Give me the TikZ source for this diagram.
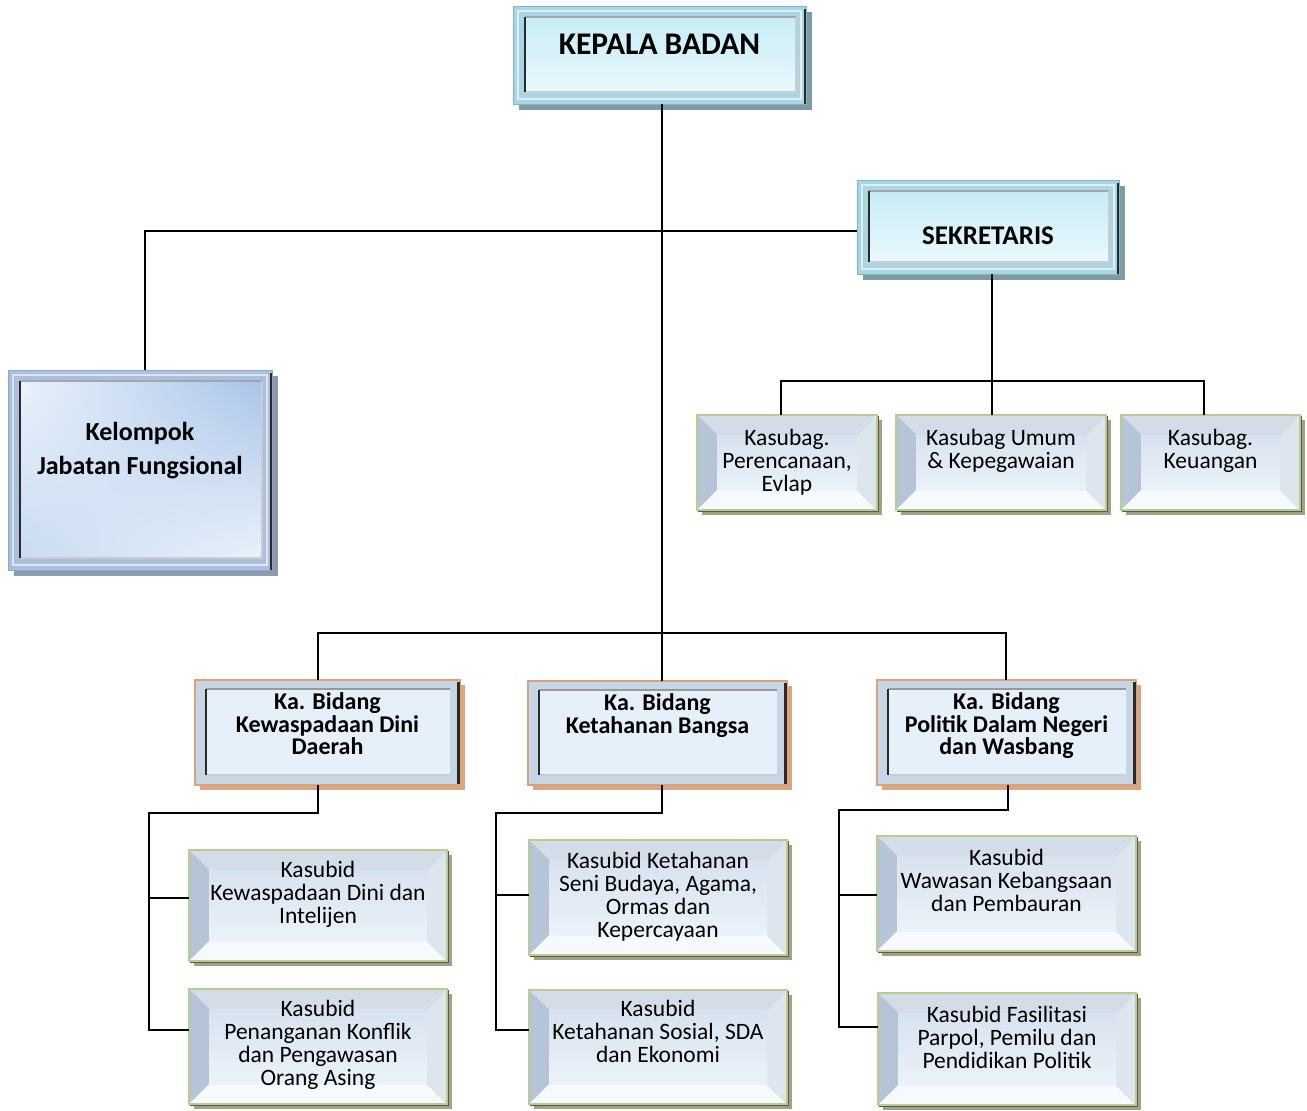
\documentclass[tikz,border=0pt]{standalone}
\usepackage{fontspec}
\setmainfont{Carlito}
\usetikzlibrary{shadings}
\definecolor{frA}{HTML}{A9D6E2}
\definecolor{frAe}{HTML}{7FB7C6}
\definecolor{shA}{HTML}{7E9AA3}
\definecolor{inAt}{HTML}{C6ECF6}
\definecolor{inAb}{HTML}{EAF9FD}
\definecolor{frB}{HTML}{A9BFDD}
\definecolor{frBe}{HTML}{8EA8CB}
\definecolor{shB}{HTML}{8A9BB0}
\definecolor{inBd}{HTML}{A9C4E8}
\definecolor{inBl}{HTML}{EAF2FC}
\definecolor{inBm}{HTML}{C9DBF1}
\definecolor{frC}{HTML}{C7D6E5}
\definecolor{frCe}{HTML}{D9A27A}
\definecolor{shC}{HTML}{D8A67F}
\definecolor{inC}{HTML}{E6F0FB}
\definecolor{edgec}{HTML}{2A2A2A}
\definecolor{grn}{HTML}{B9CD90}
\definecolor{shD}{HTML}{A0A283}
\definecolor{fT}{HTML}{D3DCE7}
\definecolor{fL}{HTML}{B6C4D7}
\definecolor{fR}{HTML}{DDE5EF}
\definecolor{fB}{HTML}{F7FAFD}
\definecolor{cT}{HTML}{D8E3F0}
\definecolor{cB}{HTML}{EBF2F9}
\newcommand\fK{\fontsize{23.5}{23}\selectfont}
\newcommand\fBd{\bfseries\fontsize{24}{22.5}\selectfont}
\newcommand\fA{\bfseries\fontsize{31.5}{34}\selectfont}
\newcommand\fS{\bfseries\fontsize{27}{30}\selectfont}
\newcommand\fKel{\bfseries\fontsize{26}{34}\selectfont}
% text node: name x1 y1 x2 y2 firstbaseline font text
\newcommand\txt[8]{%
 \node[inner sep=0pt,outer sep=0pt] (#1) at ({(#2+#4)/2},{(#3+#5)/2})
 {\parbox[c][\dimexpr#5pt-#3pt\relax][t]{\dimexpr#4pt-#2pt\relax}{\centering#7\rule{0pt}{#6pt}#8}};}
% teal bevel frame
\newcommand\typeA[4]{%
 \fill[shA] (#1+6,#2+6) rectangle (#3+6,#4+6);
 \filldraw[fill=frA,draw=frAe,line width=1pt] (#1,#2) rectangle (#3,#4);
 \draw[white!60!frA,line width=1.5pt] (#1+5,#2+5) rectangle (#3-5,#4-5);
 \shade[top color=inAt,bottom color=inAb] (#1+12,#2+11) rectangle (#3-10,#4-12);
 \draw[gray!70,line width=1.2pt] (#1+12,#2+11) -- (#3-10,#2+11);
 \draw[gray!40,line width=1.2pt] (#1+12,#4-12) -- (#3-10,#4-12) -- (#3-10,#2+11);
 \draw[edgec,line width=2.2pt] (#1+12,#2+11) -- (#1+12,#4-12);
 \draw[edgec,line width=2pt] (#3-1,#2+3) -- (#3-1,#4);}
% blue bevel frame
\newcommand\typeB[4]{%
 \fill[shB] (#1+6,#2+6) rectangle (#3+6,#4+6);
 \filldraw[fill=frB,draw=frBe,line width=1pt] (#1,#2) rectangle (#3,#4);
 \draw[white!60!frB,line width=1.5pt] (#1+5,#2+5) rectangle (#3-5,#4-5);
 \shade[upper right=inBd,upper left=inBl,lower left=inBm,lower right=inBl]
   (#1+12,#2+11) rectangle (#3-10,#4-12);
 \draw[gray!70,line width=1.2pt] (#1+12,#2+11) -- (#3-10,#2+11);
 \draw[gray!40,line width=1.2pt] (#1+12,#4-12) -- (#3-10,#4-12) -- (#3-10,#2+11);
 \draw[edgec,line width=2.2pt] (#1+12,#2+11) -- (#1+12,#4-12);
 \draw[edgec,line width=2pt] (#3-1,#2+3) -- (#3-1,#4);}
% tan-edged frame
\newcommand\typeC[4]{%
 \fill[shC] (#1+5,#2+5) rectangle (#3+5,#4+5);
 \filldraw[fill=frC,draw=frCe,line width=2pt] (#1,#2) rectangle (#3,#4);
 \fill[inC] (#1+11,#2+9) rectangle (#3-10,#4-10);
 \draw[gray!80,line width=1.3pt] (#1+11,#2+9) -- (#3-10,#2+9);
 \draw[gray!40,line width=1.2pt] (#1+11,#4-10) -- (#3-10,#4-10);
 \draw[edgec,line width=2.2pt] (#1+11,#2+9) -- (#1+11,#4-10);
 \draw[edgec,line width=2.2pt] (#3-1.5,#2+2) -- (#3-1.5,#4-1);}
% pillow frame
\newcommand\typeD[4]{%
 \fill[shD] (#1+5,#2+5) rectangle (#3+5,#4+5);
 \fill[fT] (#1,#2) -- (#3,#2) -- (#3-20,#2+20) -- (#1+20,#2+20) -- cycle;
 \fill[fL] (#1,#2) -- (#1+20,#2+20) -- (#1+20,#4-20) -- (#1,#4) -- cycle;
 \fill[fB] (#1,#4) -- (#1+20,#4-20) -- (#3-20,#4-20) -- (#3,#4) -- cycle;
 \fill[fR] (#3,#2) -- (#3,#4) -- (#3-20,#4-20) -- (#3-20,#2+20) -- cycle;
 \shade[top color=cT,bottom color=cB] (#1+20,#2+20) rectangle (#3-20,#4-20);
 \draw[grn,line width=2.5pt] (#1,#2) rectangle (#3,#4);
 \draw[gray!70!black,line width=1pt] (#3+1.5,#2+1) -- (#3+1.5,#4+1.5) -- (#1+1,#4+1.5);}
\tikzset{conn/.style={line width=1.8pt,black}}
\begin{document}
\begin{tikzpicture}[x=1pt,y=-1pt]
\useasboundingbox (0,0) rectangle (1307,1111);
\fill[white] (0,0) rectangle (1307,1111);
% boxes
\typeA{513}{6}{806}{104}
\txt{kepala}{513}{6}{806}{104}{48}{\fA}{KEPALA BADAN}
\typeA{857}{180}{1119}{274}
\txt{sek}{857}{180}{1119}{274}{64.5}{\fS}{SEKRETARIS}
\typeB{8}{370}{272}{570}
\txt{kel}{8}{370}{272}{570}{70}{\fKel}{Kelompok\\Jabatan Fungsional}
\typeD{697}{415}{877}{510}
\txt{kasPer}{697}{415}{877}{510}{30.5}{\fK}{Kasubag.\\Perencanaan,\\Evlap}
\typeD{896}{415}{1106}{510}
\txt{kasUm}{896}{415}{1106}{510}{30.5}{\fK}{Kasubag Umum\\\& Kepegawaian}
\typeD{1121}{415}{1300}{510}
\txt{kasKeu}{1121}{415}{1300}{510}{30.5}{\fK}{Kasubag.\\Keuangan}
\typeC{195}{680}{460}{785}
\txt{bKDD}{195}{680}{460}{785}{29.5}{\fBd}{Ka. Bidang\\Kewaspadaan Dini\\Daerah}
\typeC{528}{681}{787}{785}
\txt{bKB}{528}{681}{787}{785}{29.5}{\fBd}{Ka. Bidang\\Ketahanan Bangsa}
\typeC{877}{680}{1136}{785}
\txt{bPol}{877}{680}{1136}{785}{29.5}{\fBd}{Ka. Bidang\\Politik Dalam Negeri\\dan Wasbang}
\typeD{189}{850}{447}{961}
\txt{ksKDI}{189}{850}{447}{961}{27.5}{\fK}{Kasubid\\Kewaspadaan Dini dan\\Intelijen}
\typeD{189}{989}{447}{1104}
\txt{ksPen}{189}{989}{447}{1104}{27.5}{\fK}{Kasubid\\Penanganan Konflik\\dan Pengawasan\\Orang Asing}
\typeD{529}{840}{787}{955}
\txt{ksSeni}{529}{840}{787}{955}{28.5}{\fK}{Kasubid Ketahanan\\Seni Budaya, Agama,\\Ormas dan\\Kepercayaan}
\typeD{529}{990}{787}{1104}
\txt{ksSos}{529}{990}{787}{1104}{26.5}{\fK}{Kasubid\\Ketahanan Sosial, SDA\\dan Ekonomi}
\typeD{877}{836}{1136}{951}
\txt{ksWaw}{877}{836}{1136}{951}{29.5}{\fK}{Kasubid\\Wawasan Kebangsaan\\dan Pembauran}
\typeD{878}{993}{1136}{1105}
\txt{ksFas}{878}{993}{1136}{1105}{29.5}{\fK}{Kasubid Fasilitasi\\Parpol, Pemilu dan\\Pendidikan Politik}
% connector points
\coordinate (busB) at (662,633);
\coordinate (jKDD) at (318,633);
\coordinate (jPol) at (1006,633);
\coordinate (hK) at (145,231);
\coordinate (hS) at (992,381);
\coordinate (hSl) at (781,381);
\coordinate (hSr) at (1204,381);
\coordinate (a0) at (318,813);
\coordinate (a1) at (149,813);
\coordinate (a2) at (149,898);
\coordinate (a3) at (149,1030);
\coordinate (b0) at (662,813);
\coordinate (b1) at (496,813);
\coordinate (b2) at (496,895);
\coordinate (b3) at (496,1030);
\coordinate (c0) at (1008,810);
\coordinate (c1) at (839,810);
\coordinate (c2) at (839,895);
\coordinate (c3) at (839,1027);
% connectors
\draw[conn] (kepala.south -| busB) -- (busB);
\draw[conn] (sek.west |- hK) -- (hK) -- (hK |- kel.north);
\draw[conn] (sek.south -| hS) -- (hS |- kasUm.north);
\draw[conn] (hSl |- kasPer.north) -- (hSl) -- (hSr) -- (hSr |- kasKeu.north);
\draw[conn] (bKDD.north -| jKDD) -- (jKDD) -- (jPol) -- (bPol.north -| jPol);
\draw[conn] (busB) -- (bKB.north -| busB);
\draw[conn] (bKDD.south -| a0) -- (a0) -- (a1) -- (a3) -- (a3 -| ksPen.west);
\draw[conn] (a2) -- (a2 -| ksKDI.west);
\draw[conn] (bKB.south -| b0) -- (b0) -- (b1) -- (b3) -- (b3 -| ksSos.west);
\draw[conn] (b2) -- (b2 -| ksSeni.west);
\draw[conn] (bPol.south -| c0) -- (c0) -- (c1) -- (c3) -- (c3 -| ksFas.west);
\draw[conn] (c2) -- (c2 -| ksWaw.west);
\end{tikzpicture}
\end{document}
